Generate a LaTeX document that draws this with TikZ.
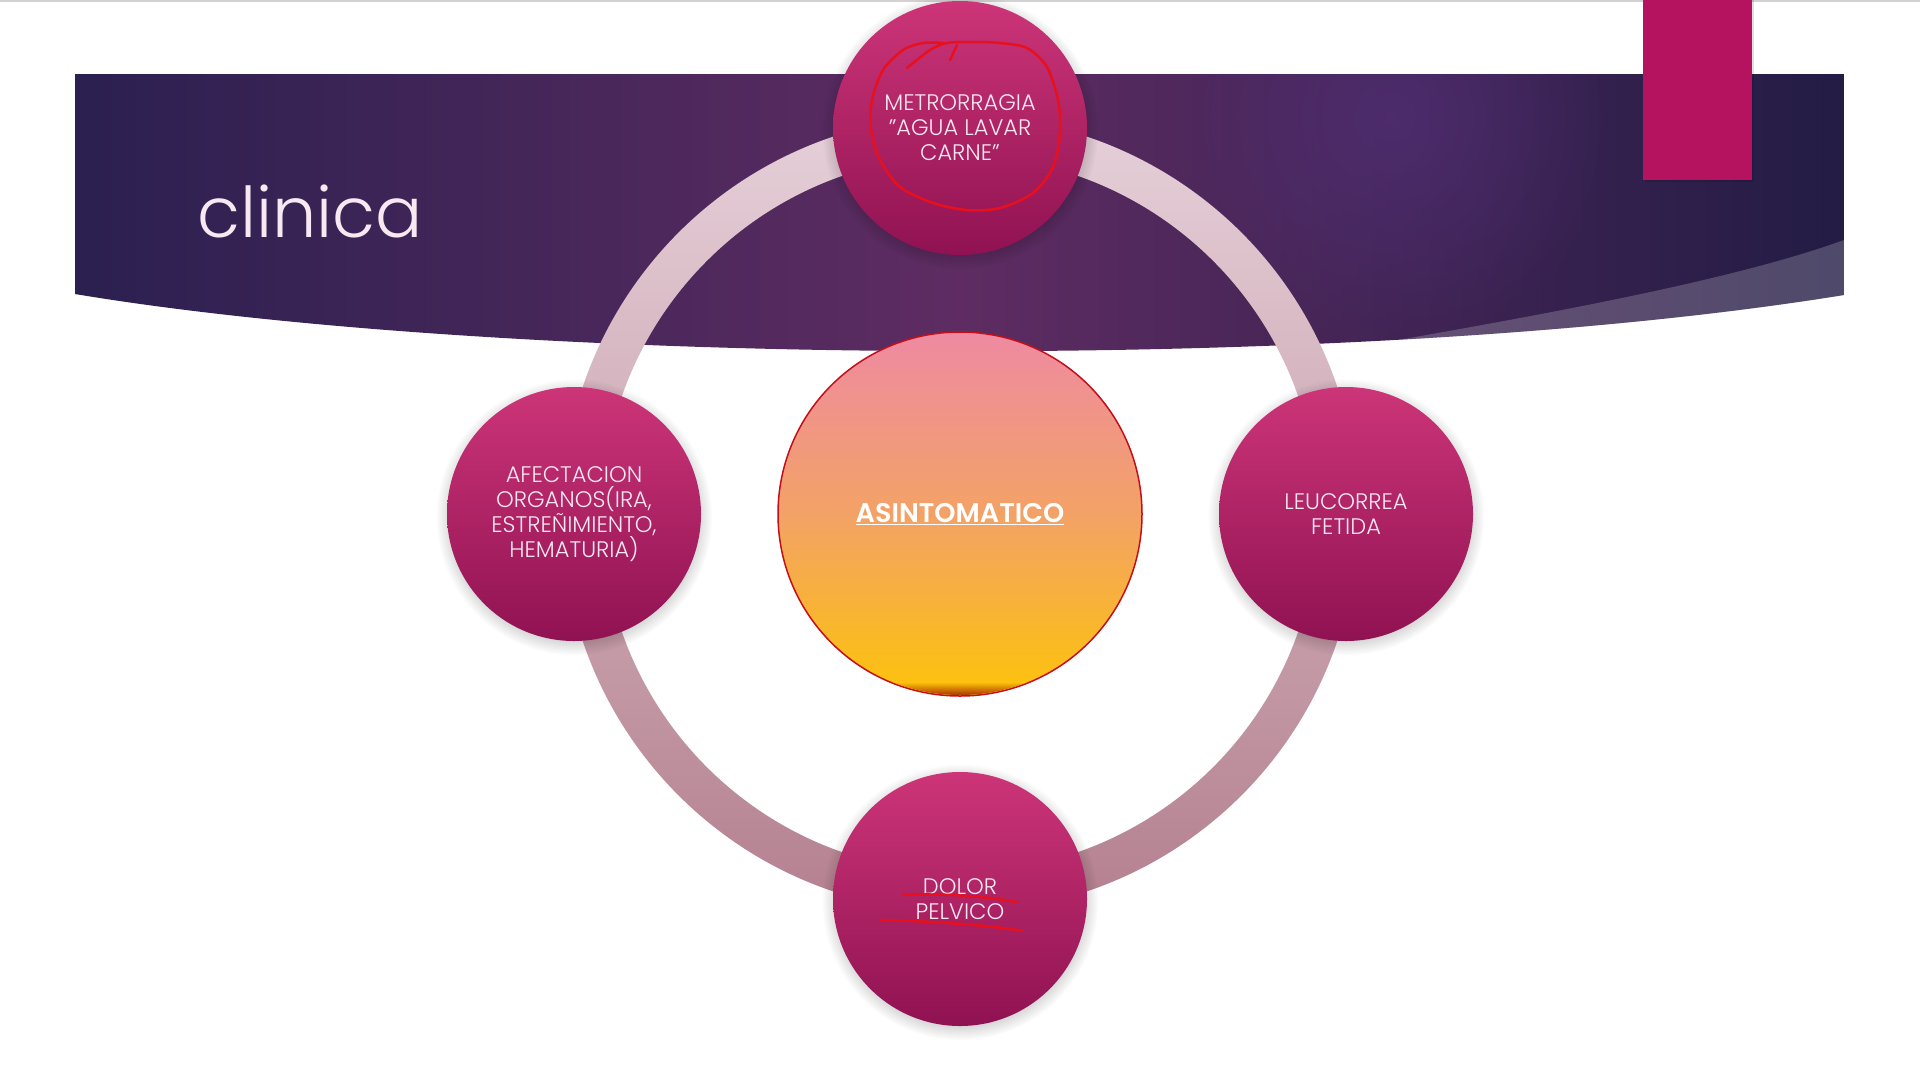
\documentclass[tikz,border=0pt]{standalone}
\usepackage{fontspec}
\setmainfont{Poppins}[UprightFont={* Light}, BoldFont={* SemiBold}]
\usetikzlibrary{fadings}

\definecolor{bandleft}{HTML}{2B2050}
\definecolor{bandmid}{HTML}{5E2C62}
\definecolor{bandright}{HTML}{231C45}
\definecolor{glow}{HTML}{54307A}
\definecolor{tabpink}{HTML}{B5135F}
\definecolor{bubtop}{HTML}{CC3578}
\definecolor{bubbot}{HTML}{901252}
\definecolor{ringtop}{HTML}{E6D0D9}
\definecolor{ringbot}{HTML}{B4808F}
\definecolor{suntop}{HTML}{EE8AA2}
\definecolor{sunmid}{HTML}{F3A266}
\definecolor{sunbot}{HTML}{FDC30A}
\definecolor{pen}{HTML}{E8101C}
\definecolor{paletext}{HTML}{F7E8F2}

\tikzfading[name=glowfade, inner color=transparent!35, outer color=transparent!100]

\tikzset{
  bubble/.style={circle, minimum size=254pt, inner sep=0pt, top color=bubtop, bottom color=bubbot,
    text=paletext, align=center, font=\fontsize{22.5}{25}\selectfont},
  sun/.style={circle, minimum size=364pt, inner sep=0pt, draw=pen!85!black, line width=1.5pt,
    top color=suntop, bottom color=sunbot, middle color=sunmid, text=white,
    font=\bfseries\fontsize{27}{30}\selectfont},
  haze/.style={black, opacity=.22, path fading=circle with fuzzy edge 15 percent},
  penline/.style={pen, line width=2.5pt, line cap=round, line join=round}
}

\begin{document}
\begin{tikzpicture}[x=1pt, y=-1pt]
\useasboundingbox (0,0) rectangle (1920,1080);
\fill[white] (0,0) rectangle (1920,1080);
\draw[gray!35, line width=1.5pt] (0,0.75) -- (1920,0.75);

% banner
\begin{scope}
\clip (75,74) -- (1844,74) -- (1844,295) .. controls (1350,375) and (500,365) .. (75,294) -- cycle;
\shade[left color=bandleft, right color=bandright, middle color=bandmid] (75,74) rectangle (1844,380);
\fill[glow, path fading=glowfade] (1391,117) circle (230);
\fill[white, opacity=.2] (1330,352) .. controls (1500,322) and (1720,285) .. (1844,240) -- (1900,420) -- (1330,420) -- cycle;
\end{scope}

% tab
\fill[black, opacity=.12] (1645,0) rectangle (1754,182);
\fill[tabpink] (1643,0) rectangle (1752,180);

\node[anchor=base west, inner sep=0pt, text=paletext, font=\fontsize{70}{70}\selectfont] (title) at (197,237) {clinica};

% ring
\shade[top color=ringtop, bottom color=ringbot, even odd rule] (960,514) circle (398) (960,514) circle (358);

% bubbles
\foreach \cx/\cy in {960/128, 574/514, 1346/514, 960/899}
  \fill[haze] (\cx,\cy+3) circle (138);

\node[bubble] (metro) at (960,128) {METRORRAGIA\\"AGUA LAVAR\\CARNE"};
\node[bubble] (afect) at (574,514) {AFECTACION\\ORGANOS(IRA,\\ESTREÑIMIENTO,\\HEMATURIA)};
\node[bubble] (leuco) at (1346,514) {LEUCORREA\\FETIDA};
\node[bubble] (dolor) at (960,899) {DOLOR\\PELVICO};

\node[sun] (asint) at (960,514) {\underline{ASINTOMATICO}};
\begin{scope}
\clip (asint.center) circle (181);
\shade[top color=sunbot, bottom color=red!55!black] (770,682) rectangle (1150,700);
\end{scope}

% red marks
\draw[penline] plot[smooth] coordinates {(907,68) (930,50) (947,43) (973,42) (1000,43) (1027,48) (1047,67) (1058,100) (1060,133) (1053,167) (1033,193) (1000,208) (967,210) (933,203) (900,187) (880,160) (871,130) (872,100) (883,70) (903,50) (923,43) (943,43)};
\draw[penline] (957,45) -- (950,60);
\draw[penline] (903,895) .. controls (950,893) and (990,897) .. (1017,902);
\draw[penline] (880,920) .. controls (930,921) and (990,925) .. (1023,931);
\end{tikzpicture}
\end{document}
